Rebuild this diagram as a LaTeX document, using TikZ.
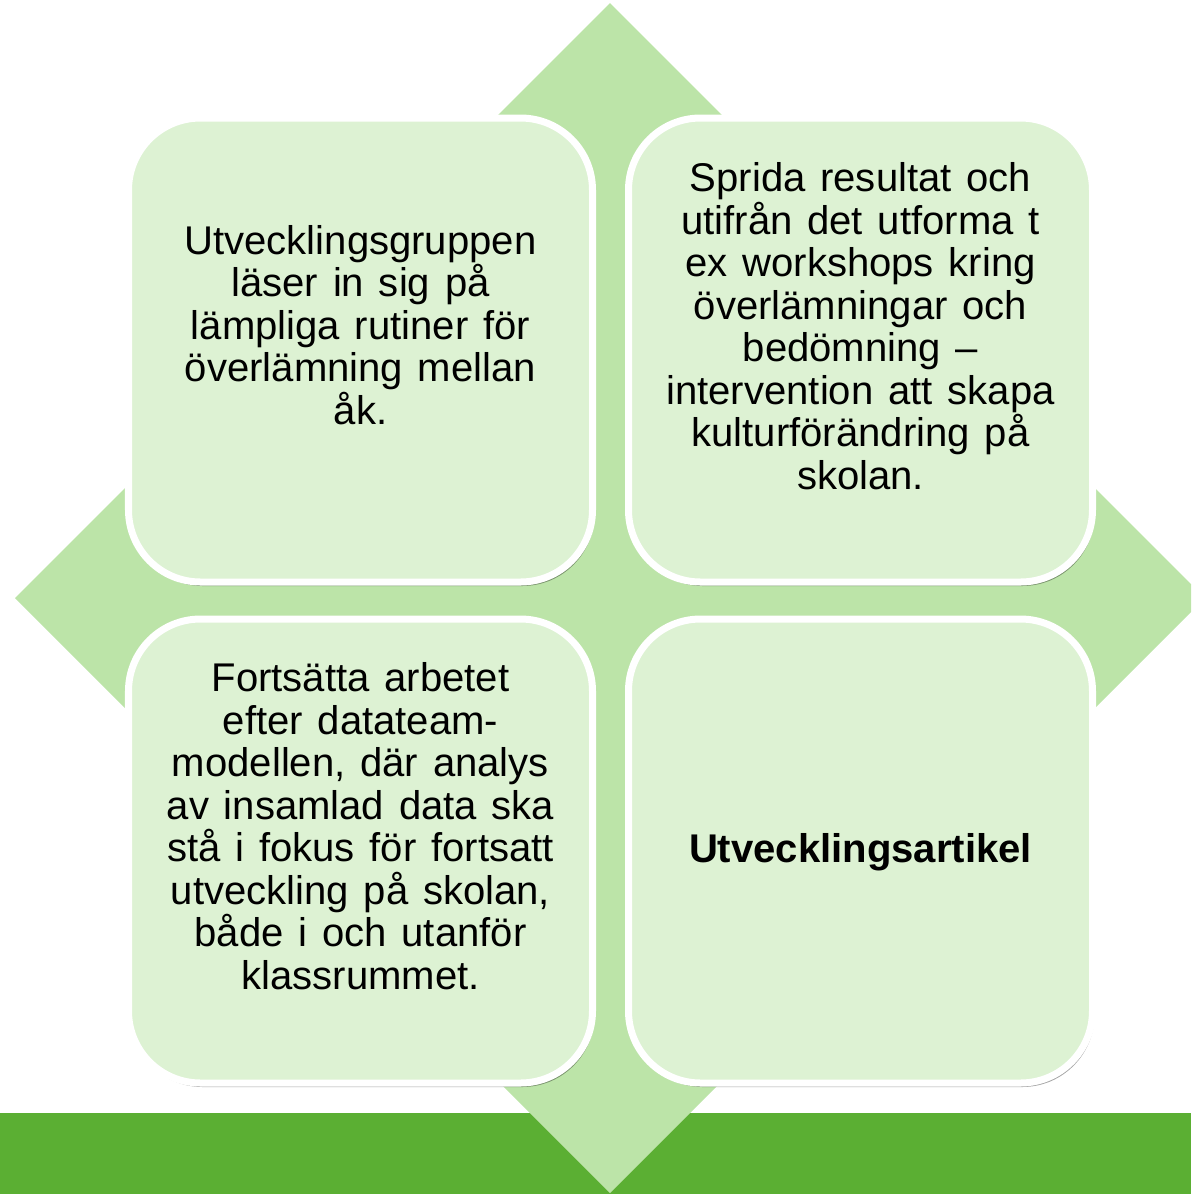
\documentclass[tikz,border=0pt]{standalone}
\usepackage{fontspec}
\setmainfont{Liberation Sans}
\usetikzlibrary{shadows, positioning}
\definecolor{barGreen}{HTML}{5BAF33}
\definecolor{diamondGreen}{HTML}{BCE4A8}
\definecolor{boxGreen}{HTML}{DDF2D3}
\newcommand{\boxfont}{\fontsize{11.4pt}{12.1pt}\selectfont}

\begin{document}
\begin{tikzpicture}[
        box/.style={draw=white, line width=0.07cm, fill=boxGreen, rounded corners=0.72cm,
            minimum width=4.64cm, minimum height=4.64cm,
            drop shadow={shadow xshift=0.02cm, shadow yshift=-0.04cm, fill=black, opacity=0.35}},
        boxtext/.style={align=center, font=\boxfont, execute at begin node={\spaceskip=0.37em plus 0.1em\relax}}
    ]
    \clip (0, 0) rectangle (11.91, -11.94);

    \fill[barGreen] (0, -11.13) rectangle (11.91, -11.94);
    \fill[diamondGreen] (6.10, -0.03) -- (12.05, -5.98) -- (6.10, -11.93) -- (0.15, -5.98) -- cycle;

    \node[box] (planera) at (3.605, -3.50) {};
    \node[box, right=0.29cm of planera] (sprida) {};
    \node[box, below=0.30cm of planera] (fortsatta) {};
    \node[box, right=0.29cm of fortsatta] (artikel) {};

    \node[boxtext] (planeraText) at ([yshift=0.25cm]planera.center)
        {Utvecklingsgruppen\\ läser in sig på\\ lämpliga rutiner för\\ överlämning mellan\\ åk.};
    \node[boxtext] (spridaText) at ([yshift=0.24cm]sprida.center)
        {Sprida resultat och\\ utifrån det utforma t\\ ex workshops kring\\ överlämningar och\\ bedömning –\\ intervention att skapa\\ kulturförändring på\\ skolan.};
    \node[boxtext] (fortsattaText) at ([yshift=0.25cm]fortsatta.center)
        {Fortsätta arbetet\\ efter datateam-\\ modellen, där analys\\ av insamlad data ska\\ stå i fokus för fortsatt\\ utveckling på skolan,\\ både i och utanför\\ klassrummet.};
    \node[boxtext, font=\boxfont\bfseries] (artikelText) at ([yshift=-0.01cm]artikel.center)
        {Utvecklingsartikel};
\end{tikzpicture}
\end{document}
